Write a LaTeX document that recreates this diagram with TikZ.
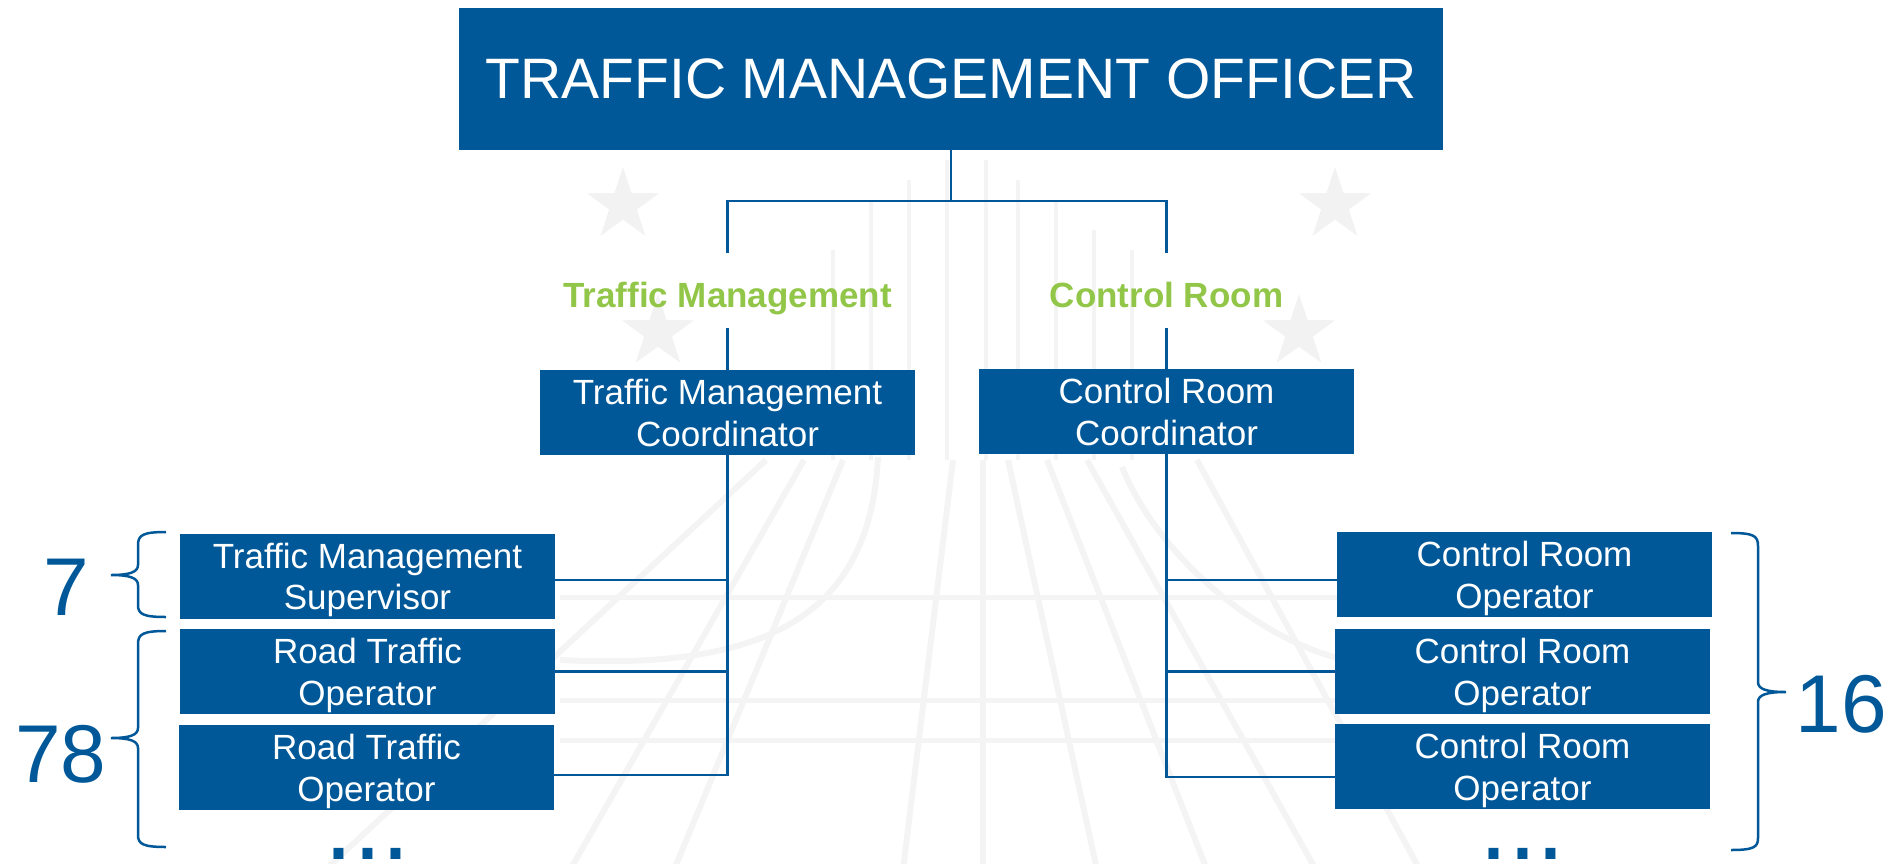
\documentclass[tikz,border=0pt]{standalone}
\usepackage{fontspec}
\setmainfont{Liberation Sans}
\usetikzlibrary{shapes.geometric}
\definecolor{tmblue}{RGB}{0,88,152}
\definecolor{tmgreen}{RGB}{146,198,72}
\definecolor{wmark}{RGB}{242,242,242}
\definecolor{wline}{RGB}{244,244,244}
\newcommand{\twoline}[2]{\rule{0pt}{34pt}#1\\#2\rule[-8pt]{0pt}{8pt}}
\begin{document}
\begin{tikzpicture}[x=1pt,y=-1pt,
  box/.style={fill=tmblue,text=white,inner sep=0pt,align=center,minimum width=375pt,minimum height=85pt,font=\fontsize{35}{41.5}\selectfont},
  grp/.style={text=tmgreen,font=\fontsize{35}{42}\selectfont\bfseries,inner xsep=4pt,inner ysep=20.5pt,text height=34pt,text depth=0pt},
  link/.style={draw=tmblue,line width=2.5pt},
  brc/.style={draw=tmblue,line width=2.5pt},
  count/.style={text=tmblue,font=\fontsize{82}{82}\selectfont,inner sep=0pt,anchor=base},
  more/.style={text=tmblue,font=\fontsize{104}{104}\selectfont,inner sep=0pt,anchor=base,text height=12pt,text depth=0pt},
  star5/.style={star,star points=5,star point ratio=2.6,fill=wmark,draw=none,minimum size=76pt,inner sep=0pt},
  rib/.style={draw=wline,line width=6pt},
  spire/.style={draw=wline,line width=4pt}]
\useasboundingbox (0,0) rectangle (1896,863);
\clip (0,0) rectangle (1896,863);
% faint watermark
\foreach \y in {597,700,740} {\draw[rib,line width=5pt] (560,\y) -- (1340,\y);}
\foreach \x/\t in {833/250,871/200,909/180,947/160,986/160,1018/180,1056/200,1094/230,1132/250} {\draw[spire] (\x,\t) -- (\x,460);}
\foreach \a/\b in {766/325,804/570,843/674,953/903,983/983,1008/1097,1047/1207,1087/1316,1197/1420} {
  \draw[rib] (\a,460) -- (\b,870);}
\draw[rib] (878,457) .. controls (870,620) and (760,670) .. (560,660);
\draw[rib] (1122,467) .. controls (1160,560) and (1260,640) .. (1345,660);
\node[star5] (s1) at (623,205) {};
\node[star5] (s2) at (658,332) {};
\node[star5] (s3) at (1335,205) {};
\node[star5] (s4) at (1299,332) {};
% boxes
\node[box,minimum width=984pt,minimum height=142pt,font=\fontsize{57}{60}\selectfont] (top) at (951,79) {TRAFFIC MANAGEMENT OFFICER};
\node[grp] (tml) at (727.5,290.5) {Traffic Management};
\node[grp] (crl) at (1166.5,290.5) {Control Room};
\node[box] (tmc) at (727.5,412.5) {\twoline{Traffic Management}{Coordinator}};
\node[box] (crc) at (1166.5,411.5) {\twoline{Control Room}{Coordinator}};
\node[box] (tms) at (367.5,576) {\twoline{Traffic Management}{Supervisor}};
\node[box] (rto1) at (367.5,671.5) {\twoline{Road Traffic}{Operator}};
\node[box] (rto2) at (366.5,767.5) {\twoline{Road Traffic}{Operator}};
\node[box] (cro1) at (1524.5,574.5) {\twoline{Control Room}{Operator}};
\node[box] (cro2) at (1522.5,671.5) {\twoline{Control Room}{Operator}};
\node[box] (cro3) at (1522.5,766.5) {\twoline{Control Room}{Operator}};
% connectors
\coordinate (j) at (951,201);
\draw[link] (top.south) -- (j) -| (tml.north);
\draw[link] (j) -| (crl.north);
\draw[link] (tml.south) -- (tmc.north);
\draw[link] (crl.south) -- (crc.north);
\coordinate (lb1) at ([yshift=-4pt]tms.east);
\coordinate (lb2) at (rto1.east);
\coordinate (lb3) at ([yshift=-7.5pt]rto2.east);
\draw[link] (tmc.south) -- (tmc.south |- lb3) -- (lb3);
\draw[link] (lb1) -- (lb1 -| tmc.south);
\draw[link] (lb2) -- (lb2 -| tmc.south);
\coordinate (rb1) at ([yshift=-5.5pt]cro1.west);
\coordinate (rb2) at (cro2.west);
\coordinate (rb3) at ([yshift=-10.5pt]cro3.west);
\draw[link] (crc.south) -- (crc.south |- rb3) -- (rb3);
\draw[link] (rb1) -- (rb1 -| crc.south);
\draw[link] (rb2) -- (rb2 -| crc.south);
% braces
\draw[brc] (166,532) .. controls (143,532) and (138,535) .. (138,545) -- (138,565)
  .. controls (138,572) and (130,575) .. (111,575) .. controls (130,575) and (138,578) .. (138,585)
  -- (138,605) .. controls (138,614) and (143,617) .. (166,617);
\draw[brc] (166,631) .. controls (143,631) and (138,634) .. (138,644) -- (138,728)
  .. controls (138,735) and (130,738) .. (111,738) .. controls (130,738) and (138,741) .. (138,748)
  -- (138,835) .. controls (138,844) and (143,847) .. (166,847);
\draw[brc] (1731,533) .. controls (1754,533) and (1758,536) .. (1758,546) -- (1758,682)
  .. controls (1758,689) and (1766,692) .. (1786,692) .. controls (1766,692) and (1758,695) .. (1758,702)
  -- (1758,838) .. controls (1758,847) and (1754,850) .. (1731,850);
% counts
\node[count] (n7) at (66,615) {7};
\node[count] (n78) at (61,782) {78};
\node[count] (n16) at (1841.5,732) {16};
\node[more] (dl) at (367.5,859) {...};
\node[more] (dr) at (1522.5,859) {...};
\end{tikzpicture}
\end{document}
